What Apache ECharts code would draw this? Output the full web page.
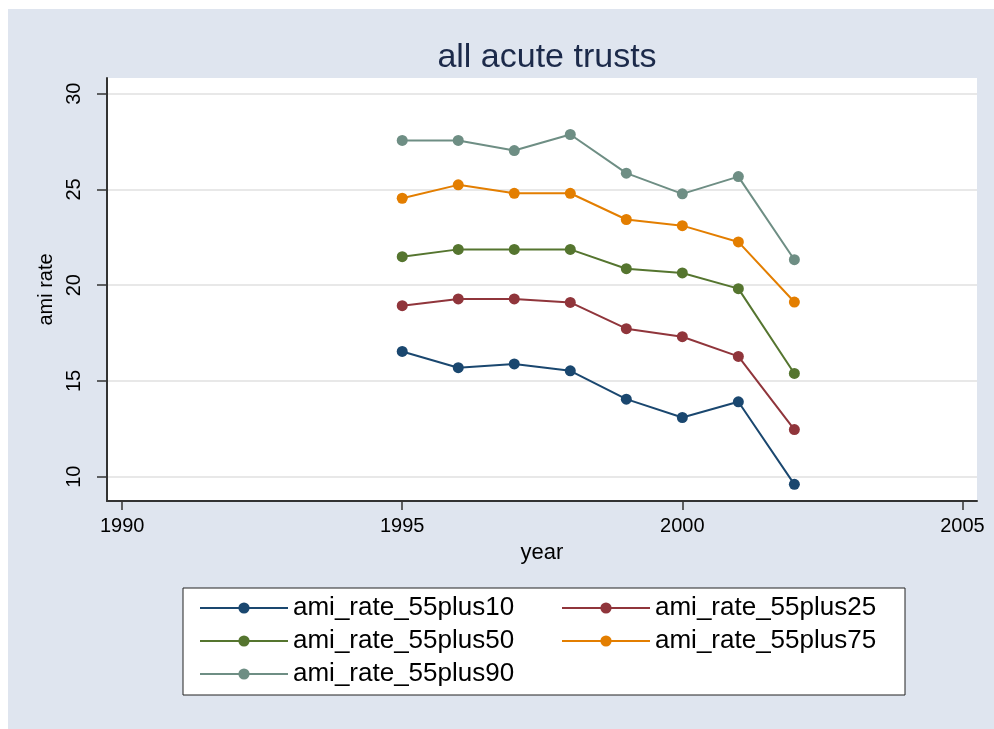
<!DOCTYPE html>
<html>
<head>
<meta charset="utf-8">
<script src="https://cdn.jsdelivr.net/npm/echarts@6/dist/echarts.min.js"></script>
<style>
  html, body { margin: 0; padding: 0; background: #fff; }
  #main { width: 994px; height: 729px; }
</style>
</head>
<body>
<div id="main"></div>
<script>
// data
var years = [1995, 1996, 1997, 1998, 1999, 2000, 2001, 2002];
var p10 = [16.54, 15.69, 15.89, 15.53, 14.05, 13.09, 13.91, 9.60];
var p25 = [18.93, 19.28, 19.28, 19.10, 17.73, 17.31, 16.28, 12.46];
var p50 = [21.49, 21.87, 21.87, 21.87, 20.86, 20.64, 19.82, 15.39];
var p75 = [24.54, 25.24, 24.80, 24.80, 23.43, 23.11, 22.26, 19.12];
var p90 = [27.56, 27.56, 27.03, 27.87, 25.85, 24.77, 25.67, 21.33];
var xTicks = [1990, 1995, 2000, 2005];
var yTicks = [10, 15, 20, 25, 30];
var names = ['ami_rate_55plus10', 'ami_rate_55plus25', 'ami_rate_55plus50', 'ami_rate_55plus75', 'ami_rate_55plus90'];
var colors = ['#1a476f', '#90353b', '#55752f', '#e37e00', '#6e8e84'];

var font = '"Liberation Sans", Arial, sans-serif';

function pairs(vals) {
	return years.map(function (y, i) { return [y, vals[i]]; });
}

function makeSeries(name, vals, color) {
	return {
		name: name,
		type: 'line',
		data: pairs(vals),
		symbol: 'circle',
		symbolSize: 11,
		itemStyle: { color: color },
		lineStyle: { color: color, width: 2 },
		emphasis: { disabled: true }
	};
}

function makeLegend(items, left) {
	return {
		data: items,
		orient: 'vertical',
		left: left,
		top: 595,
		padding: 0,
		itemWidth: 88,
		itemHeight: 14,
		itemGap: 7,
		textStyle: { fontFamily: font, fontSize: 26, color: '#000' },
		selectedMode: false
	};
}

var myChart = echarts.init(document.getElementById('main'));

var option = {
	backgroundColor: '#ffffff',
	animation: false,
	textStyle: { fontFamily: font },
	graphic: [
		{ type: 'rect', z: -10, shape: { x: 8, y: 9, width: 986, height: 720 }, style: { fill: '#dfe5ef' } },
		{ type: 'rect', z: -5, shape: { x: 183, y: 588, width: 722, height: 107 }, style: { fill: '#ffffff', stroke: '#222', lineWidth: 1 } }
	],
	title: {
		text: 'all acute trusts',
		left: 542,
		top: 36,
		textAlign: 'center',
		textStyle: { fontFamily: font, fontSize: 34, fontWeight: 'normal', color: '#1c2a4a' }
	},
	legend: [
		makeLegend([names[0], names[2], names[4]], 199),
		makeLegend([names[1], names[3]], 561)
	],
	grid: {
		left: 107,
		top: 78,
		right: 17,
		bottom: 228,
		show: true,
		backgroundColor: '#ffffff',
		borderWidth: 0
	},
	xAxis: {
		type: 'value',
		min: 1989.73,
		max: 2005.26,
		name: 'year',
		nameLocation: 'middle',
		nameGap: 41,
		nameTextStyle: { fontSize: 22, color: '#000' },
		axisLine: { show: true, lineStyle: { color: '#333', width: 2 } },
		axisTick: { show: true, length: 9, customValues: xTicks, lineStyle: { color: '#333', width: 1.5 } },
		axisLabel: {
			customValues: xTicks,
			margin: 15,
			fontSize: 20,
			color: '#000',
			formatter: function (v) { return String(v); }
		},
		splitLine: { show: false }
	},
	yAxis: {
		type: 'value',
		min: 8.73,
		max: 30.82,
		name: 'ami rate',
		nameLocation: 'middle',
		nameRotate: 90,
		nameGap: 50,
		nameTextStyle: { fontSize: 20, color: '#000' },
		axisLine: { show: true, lineStyle: { color: '#333', width: 2 } },
		axisTick: { show: true, length: 10, customValues: yTicks, lineStyle: { color: '#333', width: 1.5 } },
		axisLabel: {
			customValues: yTicks,
			rotate: 90,
			margin: 23,
			fontSize: 20,
			color: '#000'
		},
		splitLine: { show: true, lineStyle: { color: '#e8e8e8', width: 2 } }
	},
	series: [
		makeSeries(names[0], p10, colors[0]),
		makeSeries(names[1], p25, colors[1]),
		makeSeries(names[2], p50, colors[2]),
		makeSeries(names[3], p75, colors[3]),
		makeSeries(names[4], p90, colors[4])
	]
};

myChart.setOption(option);
</script>
</body>
</html>
